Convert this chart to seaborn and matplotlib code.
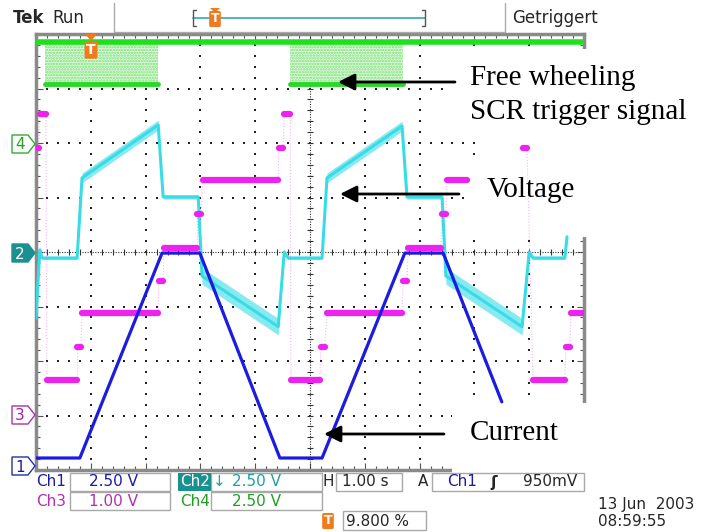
import numpy as np
import pandas as pd
import matplotlib
matplotlib.use("Agg")
import matplotlib.pyplot as plt
from matplotlib.patches import Rectangle, Polygon
import seaborn as sns

# scope screen: 10 x 8 divisions, H = 1.00 s/div
# levels are in divisions from the centre line
ch1_t = [0.00, 0.80, 2.30, 2.99, 4.45, 5.22, 6.73, 7.43, 8.50]
ch1_v = [-3.78, -3.78, -0.02, -0.02, -3.78, -3.78, -0.02, -0.02, -2.75]

ch2_t = [0.00, 0.07, 0.11, 0.75, 0.84, 2.23, 2.32, 2.96, 3.03, 4.42, 4.53, 4.60,
         5.22, 5.31, 6.68, 6.77, 7.41, 7.48, 8.87, 9.00, 9.07, 9.65, 9.69]
ch2_v = [-1.21, 0.04, -0.11, -0.11, 1.36, 2.33, 1.01, 1.01, -0.44, -1.37, 0.00, -0.11,
         -0.11, 1.36, 2.31, 1.01, 1.01, -0.44, -1.37, 0.00, -0.11, -0.11, 0.28]
ch2_spread = [0.03, 0.03, 0.03, 0.03, 0.09, 0.09, 0.04, 0.04, 0.15, 0.15, 0.03, 0.03,
              0.03, 0.09, 0.09, 0.04, 0.04, 0.15, 0.15, 0.03, 0.03, 0.03, 0.03]

ch3_start = [0.00, 0.07, 0.20, 0.75, 0.84, 2.24, 2.34, 2.94, 3.05, 4.43, 4.53,
             4.65, 5.20, 5.31, 6.70, 6.79, 7.41, 7.50, 8.89, 9.07, 9.67, 9.76]
ch3_end = [0.05, 0.18, 0.75, 0.82, 2.23, 2.32, 2.94, 3.01, 4.42, 4.51, 4.64,
           5.18, 5.27, 6.68, 6.77, 7.39, 7.48, 7.86, 8.96, 9.65, 9.74, 10.0]
ch3_level = [1.91, 2.53, -2.35, -1.74, -1.12, -0.53, 0.07, 0.70, 1.32, 1.91, 2.53,
             -2.35, -1.74, -1.12, -0.53, 0.07, 0.70, 1.32, 1.91, -2.35, -1.74, -1.12]

ch4_high = 3.85
ch4_low = 3.08
ch4_burst_start = [0.16, 4.64]
ch4_burst_end = [2.23, 6.70]

ch_names = ["Ch1", "Ch2", "Ch3", "Ch4"]
ch_scales = ["2.50 V", "2.50 V", "1.00 V", "2.50 V"]
labels = ["Free wheeling", "SCR trigger signal", "Voltage", "Current"]

BLUE = "#1c1ce0"
CYAN = "#38dce6"
MAG = "#ee22ee"
GREEN = "#1ee01e"
ORANGE = "#f07a1e"
TEAL = "#1a9090"

W, H = 712, 532


def P(x, y):
    return x / W, 1 - y / H


sns.set_style("white")
plt.rcParams["font.family"] = ["DejaVu Sans"]
plt.rcParams["hatch.linewidth"] = 1.2

fig = plt.figure(figsize=(7.12, 5.32), dpi=100)
ax = fig.add_axes([36 / W, 1 - 470 / H, 548 / W, 436 / H])
ax.set_xlim(0, 10)
ax.set_ylim(-4, 4)

# graticule
ax.set_xticks(np.arange(0, 10.01, 1))
ax.set_xticks(np.arange(0, 10.01, 0.2), minor=True)
ax.set_yticks(np.arange(-4, 4.01, 1))
ax.set_yticks(np.arange(-4, 4.01, 0.2), minor=True)
ax.tick_params(which="both", direction="in", top=True, right=True, bottom=True, left=True,
               labelbottom=False, labelleft=False, color="#555555", width=0.8)
ax.tick_params(which="major", length=5)
ax.tick_params(which="minor", length=3)
for s in ax.spines.values():
    s.set_color("#8a8a8a")
    s.set_linewidth(2.5)

xd = np.arange(0, 10.01, 0.2)
yd = np.arange(-4, 4.01, 0.2)
for gx in range(1, 10):
    if gx != 5:
        ax.scatter(np.full(len(yd), gx), yd, s=2, marker="s", color="#222222", lw=0, zorder=1)
for gy in range(-3, 4):
    if gy != 0:
        ax.scatter(xd, np.full(len(xd), gy), s=2, marker="s", color="#222222", lw=0, zorder=1)
ax.axvline(5, color="#333333", lw=0.8, ls=(0, (1, 1.3)), zorder=1)
ax.axhline(0, color="#333333", lw=0.8, ls=(0, (1, 1.3)), zorder=1)
ax.scatter(np.full(len(yd), 5), yd, marker="_", s=22, color="#333333", lw=0.8, zorder=1)
ax.scatter(xd, np.zeros(len(xd)), marker="|", s=22, color="#333333", lw=0.8, zorder=1)

# covered areas (annotation boxes)
for x0, y0, x1, y1 in [(450, 49, 712, 138), (475, 138, 712, 163),
                       (468, 163, 712, 237), (452, 403, 712, 480)]:
    ax.add_patch(Rectangle(P(x0, y1), (x1 - x0) / W, (y1 - y0) / H, transform=fig.transFigure,
                           facecolor="white", edgecolor="none", clip_on=False, zorder=4))

# Ch4 - trigger signal
for t0, t1 in zip(ch4_burst_start, ch4_burst_end):
    ax.fill_between([t0, t1], ch4_low, ch4_high, facecolor="#e6fae4", edgecolor="#74e070",
                    hatch="......", linewidth=0, zorder=5)
    sns.lineplot(x=[t0, t1], y=[ch4_low, ch4_low], ax=ax, color="#2ad82a", lw=3.5, zorder=6)
sns.lineplot(x=[0, 10], y=[ch4_high, ch4_high], ax=ax, color=GREEN, lw=4, zorder=6)

# Ch2 - voltage
v = np.array(ch2_v)
w = np.array(ch2_spread)
ax.fill_between(ch2_t, v - w, v + w, color="#86eaf0", lw=0, zorder=5)
sns.lineplot(x=ch2_t, y=ch2_v, ax=ax, color=CYAN, lw=2.2, sort=False, estimator=None, zorder=6)

# Ch3 - gate pulses
rows = []
for i, (a, b, lv) in enumerate(zip(ch3_start, ch3_end, ch3_level)):
    rows += [(a, lv, i), (b, lv, i)]
seg = pd.DataFrame(rows, columns=["t", "v", "seg"])
for i in range(len(ch3_level) - 1):
    if i != 17:
        sns.lineplot(x=[ch3_end[i], ch3_start[i + 1]], y=[ch3_level[i], ch3_level[i + 1]], ax=ax,
                     color=MAG, lw=0.8, alpha=0.35, ls=":", sort=False, estimator=None, zorder=6)
sns.lineplot(data=seg, x="t", y="v", units="seg", estimator=None, sort=False, ax=ax,
             color=MAG, lw=4.5, zorder=7, legend=False)

# Ch1 - current
sns.lineplot(x=ch1_t, y=ch1_v, ax=ax, color=BLUE, lw=2.3, sort=False, estimator=None, zorder=8)

ax.set_xlabel("")
ax.set_ylabel("")


# channel markers at the left edge
def ch_marker(num, yc, edge, fill, tc):
    pts = [(12, yc - 9), (28, yc - 9), (35, yc), (28, yc + 9), (12, yc + 9)]
    fig.add_artist(Polygon([P(*p) for p in pts], closed=True, transform=fig.transFigure,
                           facecolor=fill, edgecolor=edge, lw=1))
    fig.text(*P(20, yc + 1), num, color=tc, ha="center", va="center", fontsize=11)


ch_marker("4", 144, "#33aa33", "white", "#22a022")
ch_marker("2", 253, TEAL, TEAL, "white")
ch_marker("3", 415, "#aa33aa", "white", "#a020a0")
ch_marker("1", 466, "#2233aa", "white", "#1c1ca0")

# trigger markers
fig.add_artist(Polygon([P(85, 34), P(97, 34), P(91, 41)], closed=True, transform=fig.transFigure,
                       facecolor=ORANGE, edgecolor="none"))
tb = dict(boxstyle="round,pad=0.12", fc=ORANGE, ec="none")
fig.text(*P(91, 50), "T", color="white", fontsize=10, fontweight="bold", ha="center", va="center",
         bbox=tb)

# top bar
fig.text(*P(13, 18), "Tek", fontsize=12, fontweight="bold", va="center")
fig.text(*P(52, 18), "Run", fontsize=12, va="center")
fig.text(*P(512, 18), "Getriggert", fontsize=12, va="center")
fig.add_artist(plt.Line2D([114 / W, 114 / W, 505 / W, 505 / W], [1 - 3 / H, 1 - 32 / H, 1 - 32 / H, 1 - 3 / H],
                          transform=fig.transFigure, color="#aaaaaa", lw=1))
fig.add_artist(plt.Line2D([193 / W, 425 / W], [1 - 18 / H, 1 - 18 / H], transform=fig.transFigure,
                          color="#33aaaa", lw=1.2))
for bx, d in [(193, 1), (425, -1)]:
    fig.add_artist(plt.Line2D([(bx + 3 * d) / W, bx / W, bx / W, (bx + 3 * d) / W],
                              [1 - 10 / H, 1 - 10 / H, 1 - 26 / H, 1 - 26 / H],
                              transform=fig.transFigure, color="#555555", lw=1))
fig.add_artist(Polygon([P(210, 8), P(220, 8), P(215, 13)], closed=True, transform=fig.transFigure,
                       facecolor=ORANGE, edgecolor="none"))
fig.text(*P(215, 19), "T", color="white", fontsize=9, fontweight="bold", ha="center", va="center",
         bbox=tb)

# status area
cols = ["#1c1ca0", "#20a0a0", "#b030b0", "#20a020"]
for x0, y0, x1, y1 in [(70, 473, 170, 491), (211, 473, 322, 491), (336, 473, 402, 491),
                       (432, 473, 584, 491), (70, 492, 170, 510), (211, 492, 322, 510),
                       (343, 511, 426, 530)]:
    fig.add_artist(Rectangle(P(x0, y1), (x1 - x0) / W, (y1 - y0) / H, transform=fig.transFigure,
                             facecolor="none", edgecolor="#a8a8a8", lw=1))
fig.add_artist(Rectangle(P(178, 491), 33 / W, 18 / H, transform=fig.transFigure,
                         facecolor=TEAL, edgecolor="none"))
fs = 11
fig.text(*P(36, 482), ch_names[0], color=cols[0], fontsize=fs, va="center")
fig.text(*P(89, 482), ch_scales[0], color=cols[0], fontsize=fs, va="center")
fig.text(*P(180, 482), ch_names[1], color="white", fontsize=fs, va="center")
fig.text(*P(213, 482), "\u2193", color=cols[1], fontsize=fs, va="center")
fig.text(*P(232, 482), ch_scales[1], color=cols[1], fontsize=fs, va="center")
fig.text(*P(36, 501), ch_names[2], color=cols[2], fontsize=fs, va="center")
fig.text(*P(89, 501), ch_scales[2], color=cols[2], fontsize=fs, va="center")
fig.text(*P(180, 501), ch_names[3], color=cols[3], fontsize=fs, va="center")
fig.text(*P(232, 501), ch_scales[3], color=cols[3], fontsize=fs, va="center")
fig.text(*P(323, 482), "H", fontsize=fs, va="center")
fig.text(*P(342, 482), "1.00 s", fontsize=fs, va="center")
fig.text(*P(418, 482), "A", fontsize=fs, va="center")
fig.text(*P(447, 482), "Ch1", color=cols[0], fontsize=fs, va="center")
fig.text(*P(490, 482), "\u0283", fontsize=fs, fontweight="bold", va="center")
fig.text(*P(523, 482), "950mV", fontsize=fs, va="center")
fig.text(*P(328, 521), "T", color="white", fontsize=9, fontweight="bold", ha="center", va="center",
         bbox=tb)
fig.text(*P(346, 521), "9.800 %", fontsize=fs, va="center")
fig.text(*P(598, 505), "13 Jun  2003", fontsize=fs, va="center")
fig.text(*P(598, 522), "08:59:55", fontsize=fs, va="center")

# annotations
serif = dict(family=["Liberation Serif", "DejaVu Serif"], fontsize=21, color="black", va="center")
fig.text(*P(470, 78), labels[0], **serif)
fig.text(*P(470, 112), labels[1], **serif)
fig.text(*P(487, 190), labels[2], **serif)
fig.text(*P(470, 433), labels[3], **serif)
arrow = dict(arrowstyle="-|>", lw=2, color="black", mutation_scale=25, shrinkA=0, shrinkB=0)
for (x0, y0), (x1, y1) in [((455, 82), (338, 82)), ((459, 194), (340, 194)), ((444, 434), (324, 434))]:
    ax.annotate("", xy=P(x1, y1), xytext=P(x0, y0), xycoords="figure fraction",
                textcoords="figure fraction", arrowprops=arrow, annotation_clip=False, zorder=10)

fig.savefig("out.png", dpi=100, facecolor="white")
